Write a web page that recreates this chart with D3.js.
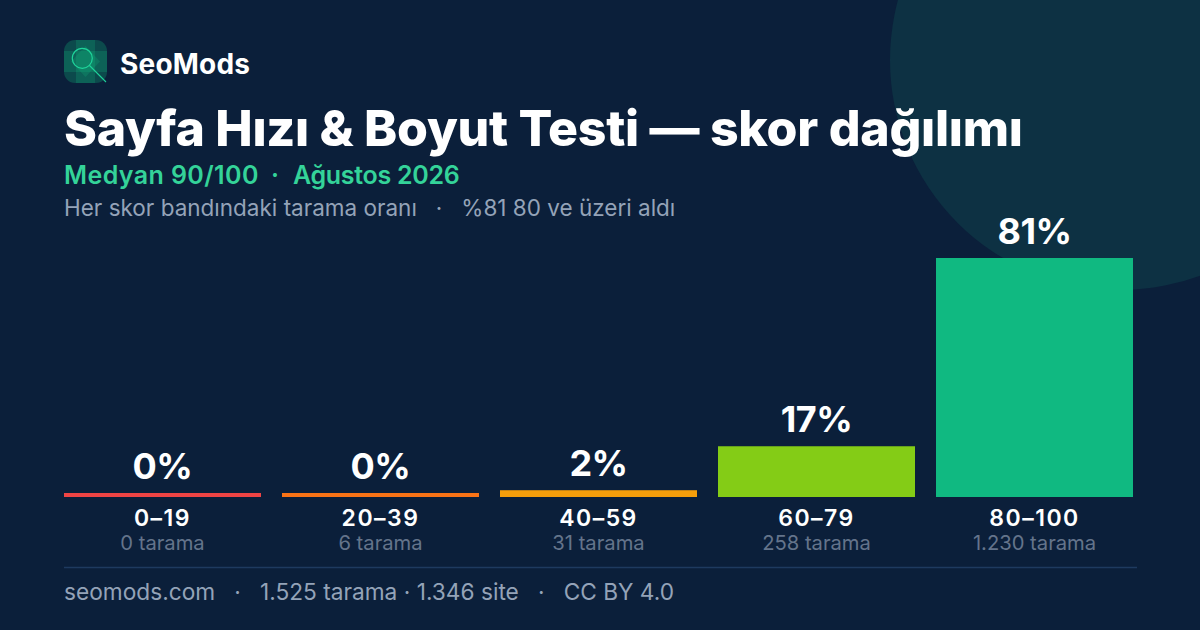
<!DOCTYPE html>
<html><head><meta charset="utf-8"><script src="https://cdn.jsdelivr.net/npm/d3@7/dist/d3.min.js"></script>
<style>html,body{margin:0;padding:0;background:#0b1f3a}svg{display:block}text{font-family:Inter,sans-serif;white-space:pre}</style></head>
<body><svg id="c" width="1200" height="630"></svg>
<script>
const bands=["0–19","20–39","40–59","60–79","80–100"];
const shares=[0,0.4,2.3,17.2,81];
const labels=["0%","0%","2%","17%","81%"];
const counts=["0 tarama","6 tarama","31 tarama","258 tarama","1.230 tarama"];
const colors=["#ef4444","#f97316","#f59e0b","#84cc16","#10b981"];
const svg=d3.select("#c");
svg.append("rect").attr("width",1200).attr("height",630).attr("fill","#0b1f3a");
svg.append("circle").attr("cx",1120).attr("cy",60).attr("r",230).attr("fill","#0d3143");
const T=(x,y,s,size,w,fill,anchor)=>svg.append("text").attr("x",x).attr("y",y).text(s).attr("font-size",size).attr("font-weight",w).attr("fill",fill).attr("text-anchor",anchor||"start");
// logo
svg.append("rect").attr("x",64).attr("y",40).attr("width",43).attr("height",43).attr("rx",11).attr("fill","#0c4a4c");
const logo=svg.append("g").attr("fill","#10b981").attr("fill-opacity",0.22);
logo.append("rect").attr("x",76).attr("y",40).attr("width",19).attr("height",43);
logo.append("rect").attr("x",64).attr("y",51).attr("width",43).attr("height",21);
logo.append("path").attr("d","M85.5 46L100 61.500L85.500 77L71 61.500Z");
svg.append("circle").attr("cx",82.3).attr("cy",58.3).attr("r",10).attr("fill","none").attr("stroke","#1fd39a").attr("stroke-width",1.2);
svg.append("line").attr("x1",89.5).attr("y1",65.5).attr("x2",106).attr("y2",82).attr("stroke","#1fd39a").attr("stroke-width",1.1);
T(120,74,"SeoMods",28,700,"#ffffff").attr("letter-spacing",0.2);
T(64,146,"Sayfa Hızı & Boyut Testi — skor dağılımı",50,800,"#ffffff").attr("letter-spacing",-0.28);
T(64,184,"Medyan 90/100",25,600,"#34d399").attr("letter-spacing",0.4);
T(271,184,"·",25,600,"#34d399");
T(293,184,"Ağustos 2026",25,600,"#34d399").attr("letter-spacing",-0.3);
T(64,216,"Her skor bandındaki tarama oranı   ·   %81 80 ve üzeri aldı",22.5,400,"#94a3b8");
const x=d3.scaleBand().domain(bands).range([64,1133]).paddingInner(21/218).paddingOuter(0);
const y=d3.scaleLinear().domain([0,81]).range([497,258]);
const minH=4;
const barTop=(v)=>Math.min(y(v),497-minH);
svg.selectAll("rect.bar").data(bands).join("rect").attr("class","bar")
 .attr("x",d=>x(d)).attr("width",x.bandwidth())
 .attr("y",(d,i)=>barTop(shares[i])).attr("height",(d,i)=>497-barTop(shares[i])).attr("fill",(d,i)=>colors[i]);
bands.forEach((b,i)=>{const c=x(b)+x.bandwidth()/2;
 T(c,barTop(shares[i])-14.5,labels[i],36,700,"#ffffff","middle").attr("letter-spacing",-0.5);
 T(c,526,b,23,600,"#ffffff","middle").attr("letter-spacing",1.5);
 T(c,550,counts[i],20.2,400,"#64748b","middle");
});
svg.append("line").attr("x1",64).attr("x2",1137).attr("y1",567.5).attr("y2",567.5).attr("stroke","#1e3a5f").attr("stroke-width",1.5);
T(64,600,"seomods.com   ·   1.525 tarama · 1.346 site   ·   CC BY 4.0",22.7,400,"#94a3b8");
</script></body></html>
